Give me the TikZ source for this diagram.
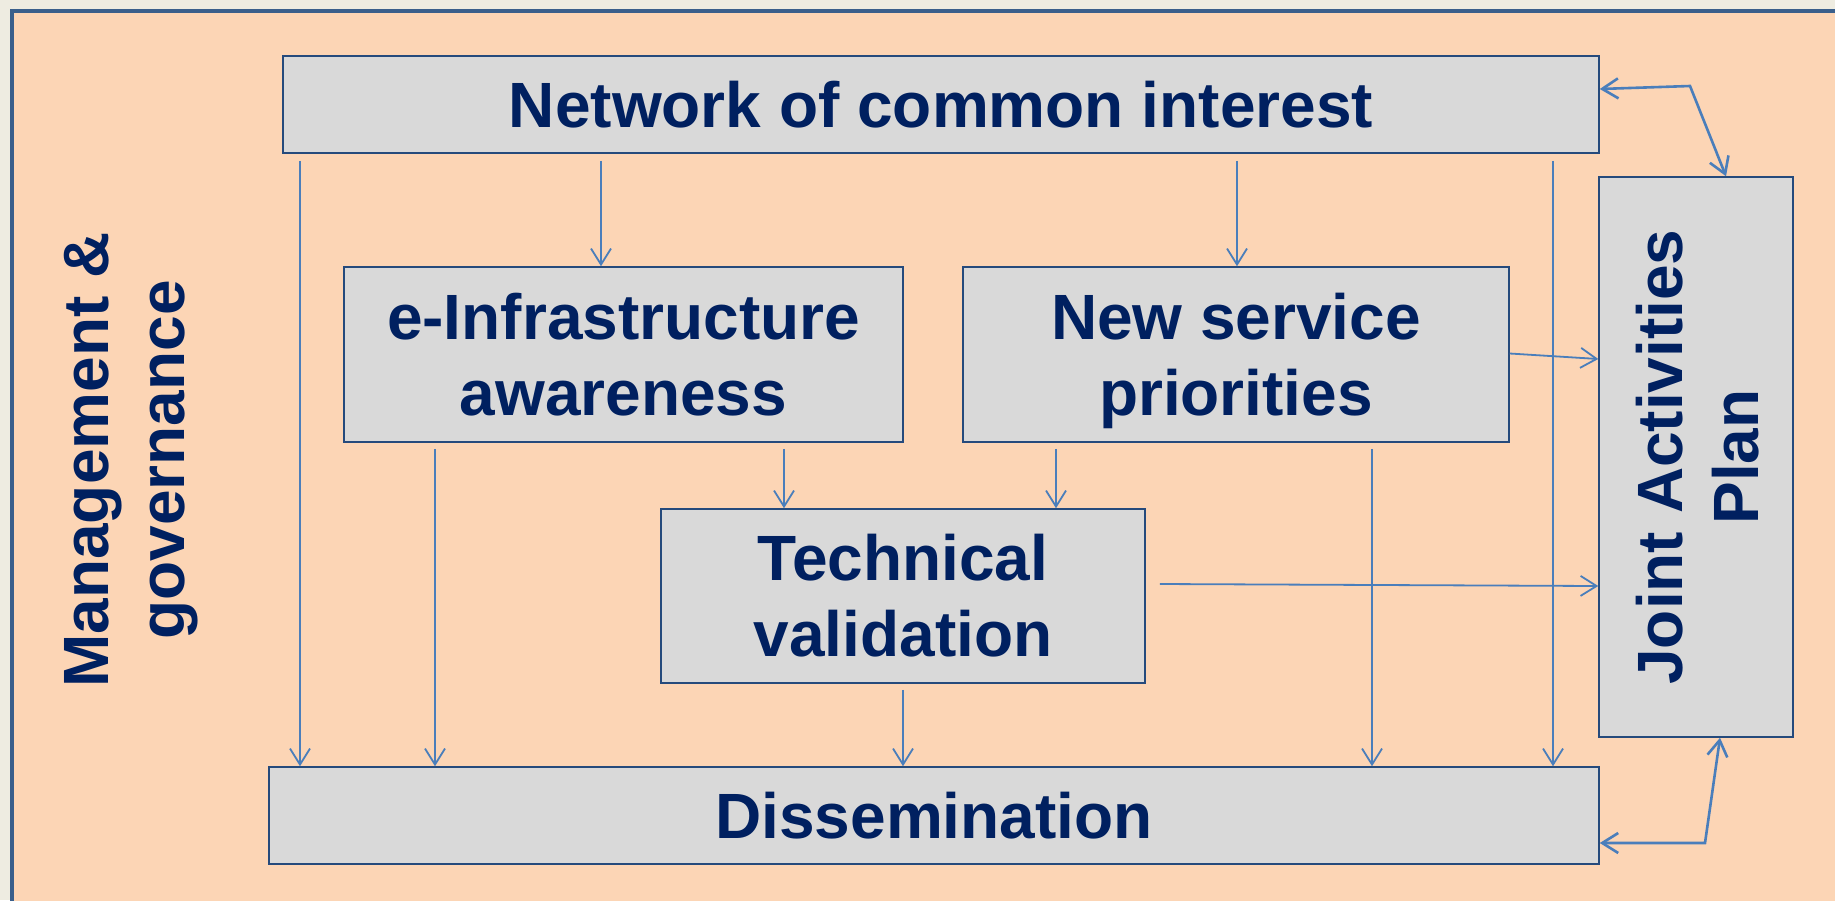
\documentclass[tikz,border=0pt]{standalone}
\usepackage{fontspec}
\setmainfont{Liberation Sans}
\usetikzlibrary{arrows.meta,calc}
\definecolor{pagebg}{HTML}{EEECE1}
\definecolor{peach}{HTML}{FCD5B5}
\definecolor{frameblue}{HTML}{3A5F8B}
\definecolor{boxgray}{HTML}{D9D9D9}
\definecolor{boxline}{HTML}{254A7C}
\definecolor{txtblue}{HTML}{002060}
\definecolor{arrblue}{HTML}{4A7EBB}
\begin{document}
\begin{tikzpicture}[x=1pt,y=-1pt,
  bigfont/.style={font=\fontsize{64}{76}\selectfont\bfseries},
  box/.style={draw=boxline, line width=1.5pt, fill=boxgray, inner sep=0pt,
    align=center, text=txtblue, bigfont},
  lbl/.style={inner sep=0pt, align=center, text=txtblue, bigfont},
  conn/.style={draw=arrblue, line width=1.8pt,
    -{Straight Barb[length=16pt,width=20pt]}},
  dconn/.style={draw=arrblue, line width=2.6pt,
    {Straight Barb[length=16pt,width=20pt]}-{Straight Barb[length=16pt,width=20pt]}}
]
\useasboundingbox (0,0) rectangle (1835,900);
\clip (0,0) rectangle (1835,900);
\fill[pagebg] (0,0) rectangle (1835,900);
\fill[peach] (12,11) rectangle (1900,960);
\draw[frameblue, line width=4pt] (1900,11) -- (12,11) -- (12,960);

% boxes
\node[box, minimum width=1316pt, minimum height=97pt] (net) at (941,104.5) {Network of common interest};
\node[box, minimum width=194pt, minimum height=560pt] (jap) at (1696,457) {};
\node[box, minimum width=1330pt, minimum height=97pt] (diss) at (934,815.5) {Dissemination};
\node[box, minimum width=559pt, minimum height=175pt] (infra) at (623.5,354.5) {e-Infrastructure\\awareness};
\node[box, minimum width=546pt, minimum height=175pt] (serv) at (1236,354.5) {New service\\\smash{priorities}};
\node[box, minimum width=484pt, minimum height=174pt] (tech) at (903,596) {Technical\\validation};

% rotated labels
\node[lbl, rotate=90] (japtxt) at (1697.5,457) {Joint Activities\\Plan};
\node[lbl, rotate=90] (mgmt) at (124.5,460) {Management \&\\\smash{governance}};

% connector columns
\coordinate (c1) at (300,0);
\coordinate (c2) at (435,0);
\coordinate (c3) at (601,0);
\coordinate (c4) at (784,0);
\coordinate (c5) at (903,0);
\coordinate (c6) at (1056,0);
\coordinate (c7) at (1237,0);
\coordinate (c8) at (1372,0);
\coordinate (c9) at (1553,0);
\coordinate (cNE) at (1690,86);
\coordinate (cSE) at (1705,843);

% vertical connectors
\draw[conn] ($(net.south -| c1)+(0,7)$) -- (diss.north -| c1);
\draw[conn] ($(net.south -| c3)+(0,7)$) -- (infra.north -| c3);
\draw[conn] ($(net.south -| c7)+(0,7)$) -- (serv.north -| c7);
\draw[conn] ($(net.south -| c9)+(0,7)$) -- (diss.north -| c9);
\draw[conn] ($(infra.south -| c2)+(0,6)$) -- (diss.north -| c2);
\draw[conn] ($(infra.south -| c4)+(0,6)$) -- (tech.north -| c4);
\draw[conn] ($(serv.south -| c6)+(0,6)$) -- (tech.north -| c6);
\draw[conn] ($(serv.south -| c8)+(0,6)$) -- (diss.north -| c8);
\draw[conn] ($(tech.south -| c5)+(0,6)$) -- (diss.north -| c5);

% connectors to the plan
\draw[conn] ([yshift=1pt]serv.east) -- ([yshift=98pt]jap.west);
\draw[conn] ([xshift=14pt,yshift=12pt]tech.east) -- ([yshift=-129pt]jap.west);
\draw[dconn] ([yshift=15.5pt]net.east) -- (cNE) -- ([xshift=30pt]jap.north);
\draw[dconn] ([yshift=-27.5pt]diss.east) -- (cSE) -- ([xshift=24pt]jap.south);
\end{tikzpicture}
\end{document}
